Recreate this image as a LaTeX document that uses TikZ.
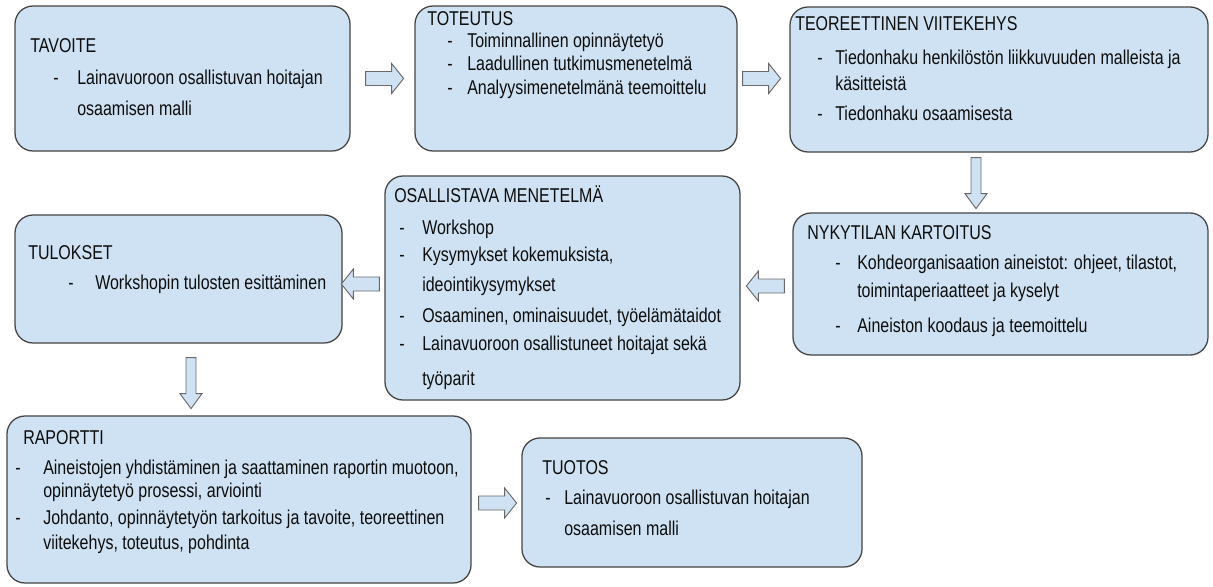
\documentclass[tikz,border=0pt]{standalone}
\usepackage{fontspec}
\setmainfont{Liberation Sans}[FakeStretch=0.8]
\usetikzlibrary{fit,calc}
\definecolor{boxfill}{HTML}{CFE2F3}
\definecolor{boxline}{HTML}{444444}
\definecolor{txtcol}{HTML}{0D0D0D}
\tikzset{
  box/.style={draw=boxline, fill=boxfill, line width=0.95pt, rounded corners=13.5pt, inner sep=0pt},
  txt/.style={anchor=base west, inner sep=0pt, text=txtcol, font=\fontsize{15pt}{18pt}\selectfont},
  blockarr/.style={draw=boxline!80, fill=boxfill, line width=0.7pt, line join=miter},
  hright/.pic={\path[blockarr] (0,-7) -- (26,-7) -- (26,-15) -- (38,0) -- (26,15) -- (26,7) -- (0,7) -- cycle;},
  hleft/.pic={\path[blockarr] (0,-7) -- (-26,-7) -- (-26,-15) -- (-38,0) -- (-26,15) -- (-26,7) -- (0,7) -- cycle;},
  vdown/.pic={\path[blockarr] (-5,0) -- (-5,36) -- (-11,36) -- (0,51) -- (11,36) -- (5,36) -- (5,0) -- cycle;}
}
\begin{document}
\begin{tikzpicture}[x=0.75pt,y=-0.75pt]
\useasboundingbox (0,0) rectangle (1213,586);
% boxes
\node[box, fit={(15,6) (350,151)}] (tav) {};
\node[box, fit={(415,6) (737,151)}] (tot) {};
\node[box, fit={(790,7) (1208,152)}] (teo) {};
\node[box, fit={(793,213) (1208,355)}] (nyk) {};
\node[box, fit={(385,176) (740,400)}] (osa) {};
\node[box, fit={(15,215) (342,343)}] (tul) {};
\node[box, fit={(7,416) (471,583)}] (rap) {};
\node[box, fit={(522,438) (862,567)}] (tuo) {};
% arrows
\pic at ($(tav.east)+(15,0)$) {hright};
\pic at ($(tot.east)+(5,0)$) {hright};
\pic at ($(teo.south)+(-23,5)$) {vdown};
\pic at ($(nyk.west)+(-8,2)$) {hleft};
\pic at ($(osa.west)+(-5,-4)$) {hleft};
\pic at ($(tul.south)+(12.5,14)$) {vdown};
\pic at ($(rap.east)+(7,3.5)$) {hright};
% TAVOITE
\node[txt] (tav0) at (30,52) {TAVOITE};
\node[txt] (tav1d) at (53,84) {-};
\node[txt] (tav1) at (77,84) {Lainavuoroon osallistuvan hoitajan};
\node[txt] (tav2) at (77,115) {osaamisen malli};
% TOTEUTUS
\node[txt] (tot0) at (427,25) {TOTEUTUS};
\node[txt] (tot1d) at (447,47) {-};
\node[txt] (tot1) at (467,47) {Toiminnallinen opinnäytetyö};
\node[txt] (tot2d) at (447,70) {-};
\node[txt] (tot2) at (467,70) {Laadullinen tutkimusmenetelmä};
\node[txt] (tot3d) at (447,94) {-};
\node[txt] (tot3) at (467,94) {Analyysimenetelmänä teemoittelu};
% TEOREETTINEN
\node[txt] (teo0) at (795,30) {TEOREETTINEN VIITEKEHYS};
\node[txt] (teo1d) at (817,64) {-};
\node[txt] (teo1) at (835,64) {Tiedonhaku henkilöstön liikkuvuuden malleista ja};
\node[txt] (teo2) at (835,90) {käsitteistä};
\node[txt] (teo3d) at (817,120) {-};
\node[txt] (teo3) at (835,120) {Tiedonhaku osaamisesta};
% NYKYTILAN
\node[txt] (nyk0) at (807,239) {NYKYTILAN KARTOITUS};
\node[txt] (nyk1d) at (835,269) {-};
\node[txt] (nyk1) at (857,269) {Kohdeorganisaation aineistot: ohjeet, tilastot,};
\node[txt] (nyk2) at (857,297) {toimintaperiaatteet ja kyselyt};
\node[txt] (nyk3d) at (835,332) {-};
\node[txt] (nyk3) at (857,332) {Aineiston koodaus ja teemoittelu};
% OSALLISTAVA
\node[txt] (osa0) at (394,202) {OSALLISTAVA MENETELMÄ};
\node[txt] (osa1d) at (399,234) {-};
\node[txt] (osa1) at (422,234) {Workshop};
\node[txt] (osa2d) at (399,261) {-};
\node[txt] (osa2) at (422,261) {Kysymykset kokemuksista,};
\node[txt] (osa3) at (422,291) {ideointikysymykset};
\node[txt] (osa4d) at (399,322) {-};
\node[txt] (osa4) at (422,322) {Osaaminen, ominaisuudet, työelämätaidot};
\node[txt] (osa5d) at (399,350) {-};
\node[txt] (osa5) at (422,350) {Lainavuoroon osallistuneet hoitajat sekä};
\node[txt] (osa6) at (422,385) {työparit};
% TULOKSET
\node[txt] (tul0) at (28,259) {TULOKSET};
\node[txt] (tul1d) at (68,289) {-};
\node[txt] (tul1) at (95,289) {Workshopin tulosten esittäminen};
% RAPORTTI
\node[txt] (rap0) at (23,444) {RAPORTTI};
\node[txt] (rap1d) at (15,474) {-};
\node[txt] (rap1) at (43,474) {Aineistojen yhdistäminen ja saattaminen raportin muotoon,};
\node[txt] (rap2) at (43,497) {opinnäytetyö prosessi, arviointi};
\node[txt] (rap3d) at (15,524) {-};
\node[txt] (rap3) at (43,524) {Johdanto, opinnäytetyön tarkoitus ja tavoite, teoreettinen};
\node[txt] (rap4) at (43,549) {viitekehys, toteutus, pohdinta};
% TUOTOS
\node[txt] (tuo0) at (542,474) {TUOTOS};
\node[txt] (tuo1d) at (545,504) {-};
\node[txt] (tuo1) at (564,504) {Lainavuoroon osallistuvan hoitajan};
\node[txt] (tuo2) at (564,535) {osaamisen malli};
\end{tikzpicture}
\end{document}
